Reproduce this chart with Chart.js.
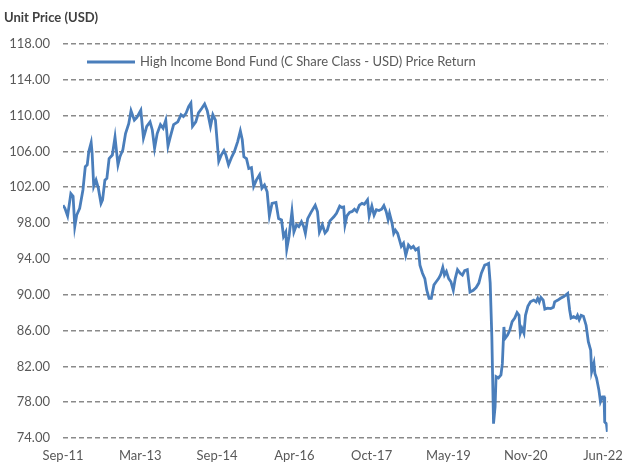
<!DOCTYPE html>
<html>
<head>
<meta charset="utf-8">
<script src="https://cdn.jsdelivr.net/npm/chart.js@4/dist/chart.umd.min.js"></script>
<style>
  html, body { margin: 0; padding: 0; background: #fff; }
  #wrap { width: 633px; height: 464px; position: relative; }
</style>
</head>
<body>
<div id="wrap"><canvas id="priceChart"></canvas></div>
<script>
// months after Sep-11 and unit prices
const months = [
  0, 0.46, 1.09, 1.86, 2.39, 2.79, 3.25, 3.95, 4.72, 5.28, 5.74, 6.11, 6.67, 6.90, 7.28, 7.83,
  8.37, 9.00, 9.37, 9.92, 10.39, 10.92, 11.69, 12.32, 13.02, 13.48, 14.18, 14.81, 15.57, 16.11,
  16.90, 17.50, 18.43, 19.06, 19.83, 20.62, 21.15, 21.69, 22.31, 23.08, 23.71, 24.34, 24.87,
  25.40, 26.20, 27.19, 27.96, 28.52, 29.12, 29.75, 30.29, 30.68, 31.45, 32.08, 32.84, 33.54,
  34.17, 34.93, 35.49, 36.10, 36.89, 37.49, 38.12, 38.58, 39.21, 39.98, 40.60, 41.37, 42.00,
  42.46, 42.84, 43.46, 44.00, 44.63, 45.16, 45.79, 46.56, 47.11, 47.72, 48.35, 48.88, 49.51,
  50.44, 51.06, 51.76, 52.23, 52.76, 52.99, 53.53, 54.23, 54.69, 55.32, 55.85, 56.48, 57.02,
  57.41, 57.95, 58.74, 59.74, 60.27, 60.73, 61.43, 62.06, 62.59, 63.22, 64.15, 64.78, 65.54,
  66.01, 66.48, 66.78, 67.24, 67.87, 68.50, 69.03, 69.57, 70.20, 70.82, 71.36, 72.12, 72.52,
  73.15, 73.68, 74.22, 74.84, 75.47, 76.00, 76.54, 77.00, 77.33, 77.93, 78.33, 78.72, 79.26,
  79.65, 80.12, 80.65, 81.19, 81.82, 82.44, 82.98, 83.51, 84.14, 84.54, 85.14, 85.70, 86.16,
  86.70, 87.23, 87.86, 88.39, 88.95, 89.42, 89.95, 90.35, 90.81, 91.35, 91.88, 92.44, 92.90,
  93.44, 94.07, 94.60, 95.13, 95.76, 96.39, 97.16, 97.85, 98.48, 99.09, 99.88, 100.41, 100.81,
  101.18, 101.57, 101.80, 101.97, 102.34, 102.57, 103.13, 103.73, 104.06, 104.43, 104.66,
  105.29, 105.83, 106.38, 106.99, 107.54, 108.01, 108.31, 108.70, 109.17, 109.54, 110.10,
  110.71, 111.50, 112.03, 112.43, 112.80, 113.19, 113.73, 114.12, 114.75, 115.52, 116.14,
  116.45, 117.22, 117.84, 118.61, 119.54, 120.00, 120.33, 120.93, 121.56, 121.86, 122.26,
  122.72, 123.26, 123.89, 124.42, 124.98, 125.21, 125.75, 125.98, 126.37, 126.91, 127.30,
  127.77, 128.14, 128.30, 128.70, 128.93
];
const prices = [
  100.0, 99.65, 98.8, 101.3, 101.0, 97.6, 98.9, 99.65, 101.7, 104.3, 104.5, 106.0, 107.0, 105.8, 102.1, 102.8,
  101.9, 100.2, 100.6, 102.8, 103.0, 105.2, 105.6, 107.6, 104.5, 105.4, 106.2, 108.0, 109.1, 110.55,
  109.5, 109.8, 110.6, 107.5, 108.8, 109.3, 108.4, 106.35, 108.0, 109.0, 108.6, 109.5, 106.6,
  107.6, 109.0, 109.3, 110.1, 109.9, 110.25, 111.0, 111.4, 108.8, 109.3, 110.3, 110.8, 111.3,
  110.55, 108.8, 110.1, 109.5, 104.9, 105.6, 106.1, 105.6, 104.5, 105.4, 106.0, 107.1, 108.3,
  107.3, 105.4, 105.2, 104.1, 104.2, 102.1, 102.8, 103.4, 101.9, 102.25, 101.5, 98.8, 100.2,
  100.3, 98.5, 98.35, 96.5, 97.0, 95.1, 96.5, 99.3, 97.0, 97.8, 97.6, 98.15, 97.6,
  96.85, 98.5, 99.2, 100.0, 99.3, 97.0, 97.8, 96.9, 97.2, 98.25, 98.7, 99.1, 99.9,
  99.75, 99.8, 97.8, 98.8, 99.2, 99.3, 99.55, 99.3, 100.0, 100.2, 100.1, 100.6, 98.8,
  99.9, 98.9, 99.5, 99.4, 99.55, 99.95, 99.3, 98.4, 99.1, 98.0, 96.85, 97.2, 96.85,
  96.2, 95.4, 95.75, 94.4, 95.55, 95.2, 95.4, 95.0, 95.2, 93.3, 92.4, 91.8, 90.5,
  89.6, 89.6, 91.1, 91.45, 91.8, 92.2, 93.05, 92.2, 92.6, 91.8, 91.45, 90.5, 91.8,
  92.8, 92.4, 92.2, 92.7, 92.8, 90.3, 90.5, 90.8, 91.3, 92.4, 93.3, 93.4, 93.5,
  91.3, 85.3, 79.7, 75.6, 77.5, 80.85, 80.7, 81.05, 82.3, 86.4, 85.1,
  85.5, 86.05, 87.0, 87.4, 88.0, 87.7, 85.7, 86.25, 85.7, 87.7, 88.7,
  89.2, 89.4, 89.2, 89.6, 89.2, 89.7, 89.4, 88.4, 88.5, 88.45, 88.6,
  89.2, 89.4, 89.6, 89.8, 90.15, 88.3, 87.4, 87.55, 87.4, 87.7, 87.2,
  87.7, 87.6, 86.6, 84.75, 83.8, 81.4, 82.35, 81.2, 80.7, 79.4, 78.05,
  78.6, 78.6, 75.8, 75.6, 74.7
];
const tickLabels = ['Sep-11', 'Mar-13', 'Sep-14', 'Apr-16', 'Oct-17', 'May-19', 'Nov-20', 'Jun-22'];
const tickMonths = [0, 18.3, 36.5, 54.8, 73.1, 91.3, 109.6, 127.9];
const seriesName = 'High Income Bond Fund (C Share Class - USD) Price Return';
const axisTitle = 'Unit Price (USD)';

const lineColor = '#4a7ebb';
const textColor = '#595959';
const fontFamily = 'Lato, "Liberation Sans", sans-serif';

// title in the top left corner and the legend drawn inside the plot
const extras = {
  id: 'extras',
  afterDraw(chart) {
    const ctx = chart.ctx;
    const area = chart.chartArea;
    ctx.save();
    ctx.fillStyle = '#404040';
    ctx.font = 'bold 13px ' + fontFamily;
    ctx.textBaseline = 'middle';
    ctx.textAlign = 'left';
    ctx.fillText(axisTitle, 4, 18);

    const ly = 62;
    ctx.strokeStyle = lineColor;
    ctx.lineWidth = 3;
    ctx.beginPath();
    ctx.moveTo(area.left + 24, ly);
    ctx.lineTo(area.left + 72, ly);
    ctx.stroke();
    ctx.fillStyle = textColor;
    ctx.font = '13px ' + fontFamily;
    ctx.fillText(chart.data.datasets[0].label, area.left + 77, ly);
    ctx.restore();
  }
};

new Chart(document.getElementById('priceChart').getContext('2d'), {
  type: 'line',
  data: {
    datasets: [{
      label: seriesName,
      data: months.map((m, i) => ({ x: m, y: prices[i] })),
      borderColor: lineColor,
      borderWidth: 2.8,
      pointRadius: 0,
      tension: 0,
      fill: false
    }]
  },
  options: {
    responsive: true,
    maintainAspectRatio: false,
    animation: false,
    layout: { padding: { top: 44, left: 9, right: 15, bottom: 0 } },
    plugins: {
      legend: { display: false },
      tooltip: { enabled: false }
    },
    scales: {
      x: {
        type: 'linear',
        min: 0,
        max: 129,
        afterBuildTicks: axis => { axis.ticks = tickMonths.map(v => ({ value: v })); },
        afterFit: axis => { axis.height = 26; },
        ticks: {
          autoSkip: false,
          maxRotation: 0,
          padding: 10,
          color: textColor,
          font: { family: fontFamily, size: 13 },
          callback: (v, i) => tickLabels[i]
        },
        grid: { display: false, drawTicks: false },
        border: { display: false }
      },
      y: {
        min: 74,
        max: 118,
        afterFit: axis => { axis.width = 54; },
        ticks: {
          stepSize: 4,
          padding: 13,
          color: textColor,
          font: { family: fontFamily, size: 13 },
          callback: v => v.toFixed(2)
        },
        grid: { color: '#8a8a8a', lineWidth: 1.6, drawTicks: false },
        border: { display: false, dash: [5, 3] }
      }
    }
  },
  plugins: [extras]
});
</script>
</body>
</html>
